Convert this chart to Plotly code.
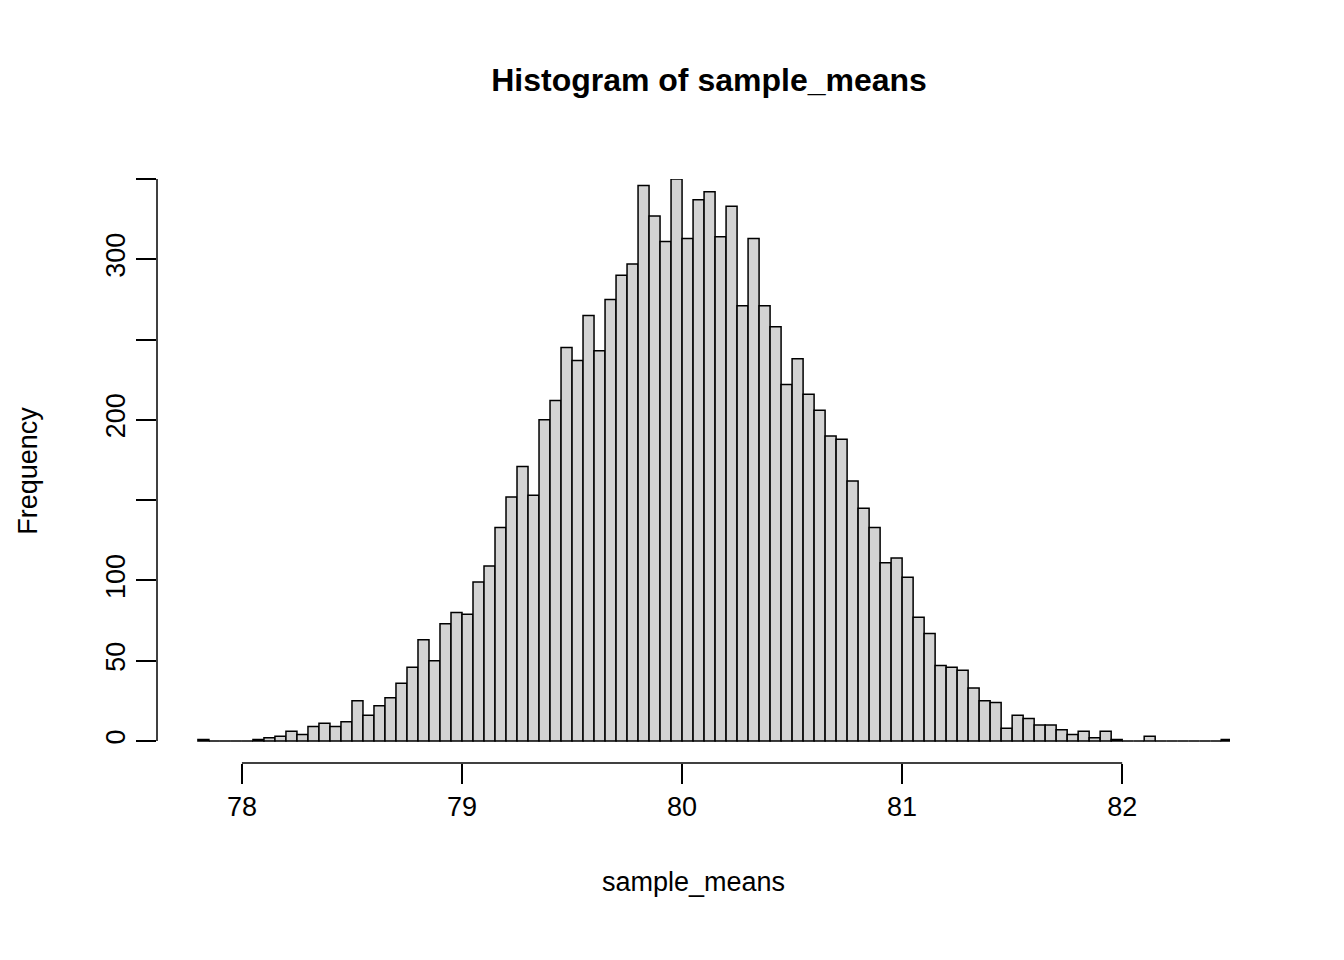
import numpy as np
import plotly.graph_objects as go

# histogram of sample means, bins of width 0.05 starting at 77.80
bin_start = 77.80
bin_width = 0.05
counts = [1, 0, 0, 0, 0, 1, 2, 3, 6, 4,
          9, 11, 9, 12, 25, 16, 22, 27, 36, 46,
          63, 50, 73, 80, 79, 99, 109, 133, 152, 171,
          153, 200, 212, 245, 237, 265, 243, 275, 290, 297,
          346, 327, 311, 350, 313, 337, 342, 314, 333, 271,
          313, 271, 258, 222, 238, 216, 206, 190, 188, 162,
          145, 133, 111, 114, 102, 77, 67, 47, 46, 44,
          33, 25, 24, 8, 16, 14, 10, 10, 7, 4,
          6, 2, 6, 1, 0, 0, 3, 0, 0, 0,
          0, 0, 0, 1]
x_ticks = [78, 79, 80, 81, 82]
y_ticks = [0, 50, 100, 150, 200, 250, 300, 350]
y_labels = ["0", "50", "100", "", "200", "", "300", ""]

centers = bin_start + bin_width * (np.arange(len(counts)) + 0.5)

fig = go.Figure()
fig.add_trace(go.Bar(x=centers, y=counts, width=bin_width,
                     marker=dict(color="#D3D3D3", line=dict(color="black", width=1.5))))

font = "Liberation Sans, Arial, sans-serif"
fig.update_layout(
    width=1344, height=960,
    plot_bgcolor="white", paper_bgcolor="white",
    margin=dict(l=149, r=122, t=171, b=205),
    showlegend=False,
    title=dict(text="<b>Histogram of sample_means</b>", x=0.5216, xanchor="center",
               y=0.925, yanchor="middle", font=dict(family=font, size=32, color="black")),
    xaxis=dict(range=[77.614, 82.49], tickvals=x_ticks, ticks="outside", ticklen=20,
               tickwidth=1.5, tickcolor="black", showgrid=False, zeroline=False,
               showline=False, tickfont=dict(family=font, size=27, color="black"),
               title=dict(text="sample_means", standoff=50,
                          font=dict(family=font, size=27, color="black"))),
    yaxis=dict(range=[-13.7, 350], tickvals=y_ticks, ticktext=y_labels, ticks="outside",
               ticklen=20, tickwidth=1.5, tickcolor="black", tickangle=-90,
               showgrid=False, zeroline=False, showline=False,
               tickfont=dict(family=font, size=27, color="black"),
               title=dict(text="Frequency", standoff=55,
                          font=dict(family=font, size=27, color="black"))),
)
# detached R-style axis spines
fig.add_shape(type="line", xref="x", yref="paper", x0=x_ticks[0], x1=x_ticks[-1], y0=0, y1=0,
              line=dict(color="black", width=1.5))
fig.add_shape(type="line", xref="paper", yref="y", x0=0, x1=0, y0=y_ticks[0], y1=y_ticks[-1],
              line=dict(color="black", width=1.5))

fig.write_html("out.html")
